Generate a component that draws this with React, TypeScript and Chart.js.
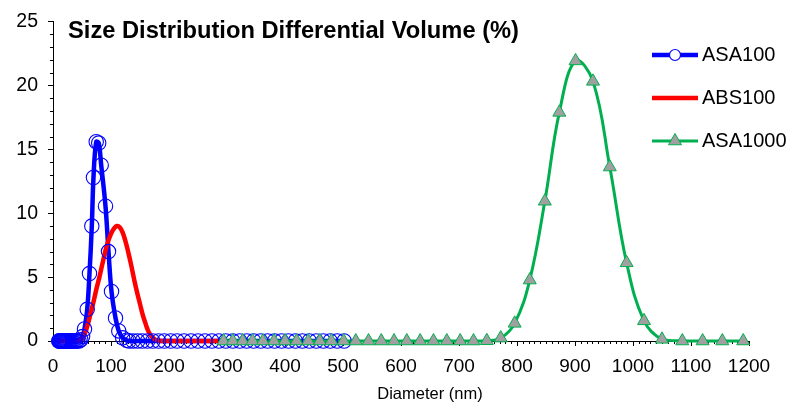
import { useEffect, useRef } from 'react';
import { Chart, registerables } from 'chart.js';

Chart.register(...registerables);

// Particle size distributions (differential volume, %) vs. diameter (nm)
const seriesNames = ['ASA100', 'ABS100', 'ASA1000'];

const asa100Diameter = [
  9.9, 10.6, 11.3, 12.0, 12.8, 13.6, 14.5, 15.4, 16.4, 17.5,
  18.6, 19.9, 21.1, 22.5, 24.0, 25.5, 27.2, 29.0, 30.8, 32.8,
  35.0, 37.2, 39.7, 42.2, 45.0, 47.9, 51.0, 54.3, 59.0, 62.9,
  66.9, 69.8, 74.5, 78.8, 83.1, 90.5, 95.7, 100.9, 107.8, 113.4,
  120, 127, 131, 138, 146, 154, 163, 172, 182, 192,
  203, 214, 226, 238, 250, 262, 274, 286, 298, 310,
  322, 334, 346, 358, 370, 382, 394, 406, 418, 430,
  442, 454, 466, 478, 490, 502,
];
const asa100Volume = [
  0, 0, 0, 0, 0, 0, 0, 0, 0, 0,
  0, 0, 0, 0, 0, 0, 0, 0, 0, 0,
  0, 0, 0, 0, 0, 0.1, 0.35, 0.94, 2.48, 5.28,
  9.0, 12.8, 15.6, 15.5, 13.77, 10.56, 7.0, 3.88, 1.8, 0.79,
  0.25, 0.06, 0, 0, 0, 0, 0, 0, 0, 0,
  0, 0, 0, 0, 0, 0, 0, 0, 0, 0,
  0, 0, 0, 0, 0, 0, 0, 0, 0, 0,
  0, 0, 0, 0, 0, 0,
];

const abs100Diameter = [
  8, 20, 30, 40, 46, 50, 55, 60, 65, 70,
  75, 80, 85, 90, 95, 100, 105, 110, 115, 120,
  125, 130, 135, 140, 145, 150, 155, 160, 165, 170,
  175, 180, 190, 200, 225, 250, 275, 296,
];
const abs100Volume = [
  0, 0, 0, 0, 0.05, 0.2, 0.6, 1.3, 2.2, 3.1,
  4.1, 5.0, 6.0, 7.0, 7.8, 8.4, 8.8, 9.0, 8.9, 8.5,
  7.8, 6.9, 5.9, 4.8, 3.8, 2.9, 2.0, 1.3, 0.7, 0.35,
  0.15, 0.05, 0, 0, 0, 0, 0, 0,
];

const asa1000Diameter = [
  294, 310, 327, 344, 362, 381, 400, 420, 440, 460,
  480, 501, 522, 544, 566, 588, 610, 633, 656, 679,
  702, 725, 748, 772, 796, 822, 848, 873, 901, 931,
  960, 989, 1019, 1050, 1085, 1120, 1154, 1190,
];
const asa1000Volume = [
  0, 0, 0, 0, 0, 0, 0, 0, 0, 0,
  0, 0, 0, 0, 0, 0, 0, 0, 0, 0,
  0, 0, 0.02, 0.23, 1.38, 4.77, 10.94, 17.9, 21.93, 20.33,
  13.62, 6.12, 1.58, 0.13, 0, 0, 0, 0,
];

// Axis ranges and tick spacing
const xMin = 0;
const xMax = 1200;
const xMajorStep = 100;
const xMinorStep = 10;
const yMin = 0;
const yMax = 25;
const yMajorStep = 5;
const yMinorStep = 1;

const chartTitle = 'Size Distribution Differential Volume (%)';
const xAxisTitle = 'Diameter (nm)';

const FONT = '"Liberation Sans", Arial, Helvetica, sans-serif';
const BLUE = '#0000FF';
const RED = '#FF0000';
const GREEN = '#00B050';
const GRAY = '#A0A0A0';

// Per-series look, shared by the plot and the legend
const seriesStyles = [
  { color: BLUE, lineWidth: 4.5, marker: 'circle', markerRadius: 7.2, markerFill: 'rgba(0,0,0,0)' },
  { color: RED, lineWidth: 4.5, marker: 'none', markerRadius: 0, markerFill: 'rgba(0,0,0,0)' },
  { color: GREEN, lineWidth: 3, marker: 'triangle', markerRadius: 7.5, markerFill: GRAY },
];

const toPoints = (xs: number[], ys: number[]) => xs.map((x, i) => ({ x, y: ys[i] }));

// Minor tick marks drawn outside the plot area, under the data
const minorTicksPlugin = {
  id: 'minorTicks',
  beforeDatasetsDraw(chart: any) {
    const { ctx, chartArea, scales } = chart;
    const xs = scales.x;
    const ys = scales.y;
    ctx.save();
    ctx.strokeStyle = '#000';
    ctx.lineWidth = 1;
    ctx.beginPath();
    for (let v = xMin; v <= xMax; v += xMinorStep) {
      if (v % xMajorStep === 0) continue;
      const px = Math.round(xs.getPixelForValue(v)) + 0.5;
      ctx.moveTo(px, chartArea.bottom);
      ctx.lineTo(px, chartArea.bottom + 3);
    }
    for (let v = yMin; v <= yMax; v += yMinorStep) {
      if (v % yMajorStep === 0) continue;
      const py = Math.round(ys.getPixelForValue(v)) + 0.5;
      ctx.moveTo(chartArea.left - 3, py);
      ctx.lineTo(chartArea.left, py);
    }
    ctx.stroke();
    ctx.restore();
  },
};

function drawTriangle(ctx: CanvasRenderingContext2D, x: number, y: number, r: number) {
  let rad = 0;
  ctx.beginPath();
  ctx.moveTo(x + Math.sin(rad) * r, y - Math.cos(rad) * r);
  rad += (2 * Math.PI) / 3;
  ctx.lineTo(x + Math.sin(rad) * r, y - Math.cos(rad) * r);
  rad += (2 * Math.PI) / 3;
  ctx.lineTo(x + Math.sin(rad) * r, y - Math.cos(rad) * r);
  ctx.closePath();
}

// Title, axis title and the line-with-marker legend
const annotationsPlugin = {
  id: 'annotations',
  afterDraw(chart: any) {
    const { ctx, scales } = chart;
    ctx.save();
    ctx.fillStyle = '#000';
    ctx.textBaseline = 'middle';

    ctx.font = `bold 23.7px ${FONT}`;
    ctx.textAlign = 'left';
    ctx.fillText(chartTitle, 68, 31);

    ctx.font = `16.5px ${FONT}`;
    ctx.textAlign = 'center';
    ctx.fillText(xAxisTitle, scales.x.getPixelForValue(650), 394);

    const lineX0 = 652;
    const lineX1 = 698;
    const markX = (lineX0 + lineX1) / 2;
    seriesNames.forEach((name, i) => {
      const st = seriesStyles[i];
      const y = 55 + i * 43;
      ctx.strokeStyle = st.color;
      ctx.lineWidth = st.lineWidth;
      ctx.lineCap = 'butt';
      ctx.beginPath();
      ctx.moveTo(lineX0, y);
      ctx.lineTo(lineX1, y);
      ctx.stroke();
      if (st.marker === 'circle') {
        ctx.beginPath();
        ctx.arc(markX, y, 5.5, 0, Math.PI * 2);
        ctx.fillStyle = '#fff';
        ctx.fill();
        ctx.lineWidth = 1.2;
        ctx.strokeStyle = st.color;
        ctx.stroke();
      } else if (st.marker === 'triangle') {
        drawTriangle(ctx, markX, y, st.markerRadius);
        ctx.fillStyle = st.markerFill;
        ctx.fill();
        ctx.lineWidth = 1;
        ctx.strokeStyle = st.color;
        ctx.stroke();
      }
      ctx.fillStyle = '#000';
      ctx.font = `20px ${FONT}`;
      ctx.textAlign = 'left';
      ctx.fillText(name, 702, y);
    });
    ctx.restore();
  },
};

function lineDataset(i: number, xs: number[], ys: number[], order: number) {
  const st = seriesStyles[i];
  return {
    label: seriesNames[i],
    data: toPoints(xs, ys),
    borderColor: st.color,
    borderWidth: st.lineWidth,
    tension: 0.4,
    pointRadius: 0,
    clip: false,
    order,
  } as any;
}

function markerDataset(i: number, xs: number[], ys: number[], order: number) {
  const st = seriesStyles[i];
  return {
    label: seriesNames[i],
    data: toPoints(xs, ys),
    showLine: false,
    pointStyle: st.marker,
    pointRadius: st.markerRadius,
    pointBorderWidth: st.marker === 'circle' ? 1.1 : 1,
    pointBorderColor: st.color,
    pointBackgroundColor: st.markerFill,
    clip: false,
    order,
  } as any;
}

export default function App() {
  const canvasRef = useRef<HTMLCanvasElement | null>(null);

  useEffect(() => {
    const canvas = canvasRef.current;
    if (!canvas) return;
    // All series lines first, then the markers on top of them
    const chart = new Chart(canvas, {
      type: 'line',
      data: {
        datasets: [
          lineDataset(0, asa100Diameter, asa100Volume, 5),
          lineDataset(1, abs100Diameter, abs100Volume, 4),
          lineDataset(2, asa1000Diameter, asa1000Volume, 3),
          markerDataset(0, asa100Diameter, asa100Volume, 2),
          markerDataset(2, asa1000Diameter, asa1000Volume, 1),
        ],
      },
      options: {
        responsive: false,
        animation: false,
        devicePixelRatio: 1,
        layout: { padding: { top: 14, right: 42, left: 0, bottom: 0 } },
        plugins: {
          legend: { display: false },
          tooltip: { enabled: false },
          title: { display: false },
        },
        scales: {
          x: {
            type: 'linear',
            min: xMin,
            max: xMax,
            ticks: {
              stepSize: xMajorStep,
              color: '#000',
              font: { family: FONT, size: 19 },
              padding: 9,
              maxRotation: 0,
              autoSkip: false,
              callback: (v: any) => String(v),
            },
            grid: { display: true, drawOnChartArea: false, drawTicks: true, tickLength: 5, color: '#000' },
            border: { display: true, color: '#000', width: 1 },
            afterFit(scale: any) {
              scale.height = 66;
            },
          },
          y: {
            type: 'linear',
            min: yMin,
            max: yMax,
            ticks: {
              stepSize: yMajorStep,
              color: '#000',
              font: { family: FONT, size: 19.5 },
              padding: 10,
              callback: (v: any) => String(v),
            },
            grid: { display: true, drawOnChartArea: false, drawTicks: true, tickLength: 5, color: '#000' },
            border: { display: true, color: '#000', width: 1 },
            afterFit(scale: any) {
              scale.width = 53;
            },
          },
        },
      },
      plugins: [minorTicksPlugin, annotationsPlugin],
    });
    return () => chart.destroy();
  }, []);

  return (
    <div style={{ position: 'fixed', left: 0, top: 0, width: 791, height: 407, background: '#fff' }}>
      <canvas ref={canvasRef} width={791} height={407} style={{ display: 'block' }} />
    </div>
  );
}
